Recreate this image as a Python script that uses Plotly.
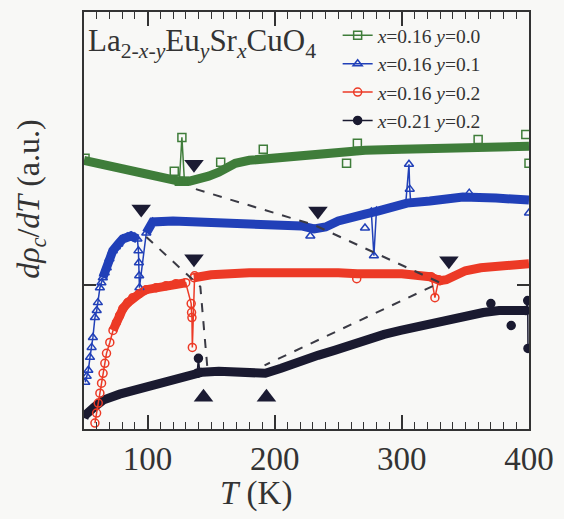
import plotly.graph_objects as go

# ---------------- data (T in K, dρc/dT in a.u.) ----------------
# x=0.16 y=0.0 (green squares)
g_band_T = [50, 60, 72.6, 85, 99, 112, 125, 133, 140, 148, 156, 163, 169, 180, 195, 210, 221, 235, 250, 271, 300, 322, 350, 374, 400]
g_band_v = [270, 267, 263, 259, 256, 252, 249, 249, 251, 254, 258, 263, 267, 270, 272, 274, 275, 277, 278, 280, 281, 282, 283, 283, 284]
g_pts_T = [125, 127, 129, None, 50.8, None, 121, None, 157.5, None, 191, None, 256.5, None, 265, None, 360, None, 397.5, None, 400]
g_pts_v = [249, 293, 249, None, 272, None, 259, None, 268, None, 281, None, 267, None, 287, None, 291, None, 296, None, 267]

# x=0.16 y=0.1 (blue triangles)
b_band1_T = [64.8, 67.9, 72.6, 77, 80.5, 87, 92]
b_band1_v = [152, 162, 179, 186, 191, 194, 191]
b_band2_T = [99, 104, 120, 143, 170, 195, 221, 231, 240, 250, 262, 271, 281, 295, 304, 322, 348, 374, 400]
b_band2_v = [197, 208, 209, 208, 208, 207, 204, 201, 203, 209, 214, 216, 219, 224, 227, 229, 233, 232, 230]
b_pts_T = [51, 52.1, 53.4, 54.7, 56, 57, 58.6, 60, 60.9, 62.5, 63.7, 64.8, 66.3, 67.9, 70, 72.6, 75, 77, 80.5, 84, 87, 90, 92,
           92.8, 93.2, 93.4, 93.6, 99, 104, None,
           303, 305.6, 306.2, 307, None, 276, 278, 280, None, 271, None, 228, None, 400, None, 353]
b_pts_v = [47, 53, 59, 72, 82, 92, 112, 119, 127, 142, 147, 152, 157, 162, 171, 179, 183, 186, 191, 193, 194, 193, 191,
           179, 167, 154, 142, 197, 208, None,
           226, 266, 241, 227, None, 218, 174, 219, None, 202, None, 194, None, 217, None, 237]

# x=0.16 y=0.2 (red circles)
r_band1_T = [72.8, 75.5, 78, 80.6, 84.5, 88.4, 93.6, 98.9, 106.7, 114.5, 122.3, 130]
r_band1_v = [99, 107, 114, 121, 127, 132, 136, 140, 142, 144, 146, 147]
r_band2_T = [136.5, 150, 180, 220, 250, 265, 300, 322, 330, 335, 341, 350, 362, 380, 400]
r_band2_v = [152, 155, 157, 158, 157, 156, 156, 153, 149, 150, 154, 159, 162, 164, 166]
r_pts_T = [58.6, 59.9, 61.2, 62.5, 63.8, 65, 66.4, 67.7, 70.3, 72.8, 75.5, 78, 80.6, 84.5, 88.4, 93.6, 98.9, 106.7, 114.5, 122.3, 130,
           134.3, 134.6, 134.9, 135.2, 136.5, 137, None, 323, 326, 329, None, 264.5, None, 330]
r_pts_v = [6, 16, 26, 36, 46, 56, 66, 76, 87, 99, 107, 114, 121, 127, 132, 136, 140, 142, 144, 146, 147,
           126, 117, 112, 82, 152, 154, None, 153, 132, 150, None, 151, None, 149]

# x=0.21 y=0.2 (black dots)
k_band_T = [50, 51, 58, 65, 78, 91, 104, 117, 130, 143, 156, 169, 181, 192.6, 205, 221, 234, 247, 260, 273, 286, 299, 312, 325, 338, 351, 364, 376.5, 388, 397.6]
k_band_v = [11, 14, 22, 29, 35, 39, 44, 49, 53, 57, 58, 58, 57, 56, 61, 69, 74, 79, 85, 91, 95, 99, 103, 107, 111, 114, 117, 119, 120, 119]
k_pts_T = [139, 140, 141, None, 370, None, 386, None, 397.6, 399, 399.2]
k_pts_v = [56, 71, 57, None, 126, None, 104, None, 119, 129, 81]

# guide lines and transition markers
dashA_T = [138, 231, 330, 192]
dashA_v = [241, 205, 147, 64]
dashB_T = [99, 136, 141.5, 147]
dashB_v = [193, 150, 143, 62]
down_T = [95, 136.5, 136.5, 234, 337]
down_v = [221, 266, 171, 219, 169]
up_T = [144, 193.5]
up_v = [32, 32]

legend_names = ["<i>x</i>=0.16 <i>y</i>=0.0", "<i>x</i>=0.16 <i>y</i>=0.1",
                "<i>x</i>=0.16 <i>y</i>=0.2", "<i>x</i>=0.21 <i>y</i>=0.2"]

GREEN, BLUE, RED, BLACK = "#3f7d3a", "#2140b8", "#ec3a26", "#1a1a30"
FONT = "Liberation Serif"
BW = 9

fig = go.Figure()

# thick bands (dense data)
for T, v, c in [(g_band_T, g_band_v, GREEN), (b_band1_T, b_band1_v, BLUE), (b_band2_T, b_band2_v, BLUE),
                (r_band1_T, r_band1_v, RED), (r_band2_T, r_band2_v, RED), (k_band_T, k_band_v, BLACK)]:
    fig.add_trace(go.Scatter(x=T, y=v, mode="lines", line=dict(color=c, width=BW),
                             showlegend=False, hoverinfo="skip"))

# individual points / spikes (also legend entries)
for T, v, c, sym, name in [(g_pts_T, g_pts_v, GREEN, "square-open", legend_names[0]),
                           (b_pts_T, b_pts_v, BLUE, "triangle-up-open", legend_names[1]),
                           (r_pts_T, r_pts_v, RED, "circle-open", legend_names[2]),
                           (k_pts_T, k_pts_v, BLACK, "circle", legend_names[3])]:
    fig.add_trace(go.Scatter(x=T, y=v, mode="lines+markers", name=name,
                             line=dict(color=c, width=1.5),
                             marker=dict(symbol=sym, size=8, color=c, line=dict(color=c, width=1.5)),
                             connectgaps=False))

# dashed guides
for T, v in [(dashA_T, dashA_v), (dashB_T, dashB_v)]:
    fig.add_trace(go.Scatter(x=T, y=v, mode="lines", line=dict(color="#3a3a44", width=2, dash="dash"),
                             showlegend=False, hoverinfo="skip"))

# transition markers
fig.add_trace(go.Scatter(x=down_T, y=down_v, mode="markers",
                         marker=dict(symbol="triangle-down", size=17, color="#1b1b33"), showlegend=False))
fig.add_trace(go.Scatter(x=up_T, y=up_v, mode="markers",
                         marker=dict(symbol="triangle-up", size=17, color="#1b1b33"), showlegend=False))

fig.update_layout(
    width=564, height=519,
    margin=dict(l=84, r=31, t=10, b=90),
    paper_bgcolor="#f8f8f6", plot_bgcolor="#f8f8f6",
    font=dict(family=FONT, color="#2a2a2a"),
    showlegend=True,
    legend=dict(x=0.57, y=0.99, xanchor="left", yanchor="top", bgcolor="rgba(0,0,0,0)",
                font=dict(size=19.5, family=FONT, color="#333"), tracegroupgap=0, itemwidth=30),
    xaxis=dict(range=[50, 400], tickvals=[100, 200, 300, 400], ticks="inside", ticklen=14, tickwidth=1.5,
               tickcolor="#333", minor=dict(dtick=10, ticks="inside", ticklen=7, tickwidth=1, tickcolor="#333"),
               showline=True, linecolor="#333", linewidth=1.5, mirror="ticks", showgrid=False, zeroline=False,
               tickfont=dict(size=33, family=FONT, color="#333")),
    yaxis=dict(range=[0, 419], tickvals=[145], ticks="inside", ticklen=12, tickwidth=1.5, tickcolor="#333",
               showticklabels=False, showline=True, linecolor="#333", linewidth=1.5, mirror="ticks",
               showgrid=False, zeroline=False),
    annotations=[
        dict(text="La<sub>2-<i>x</i>-<i>y</i></sub>Eu<sub><i>y</i></sub>Sr<sub><i>x</i></sub>CuO<sub>4</sub>",
             xref="paper", yref="paper", x=0.005, y=0.925, xanchor="left", yanchor="middle", showarrow=False,
             font=dict(size=31, family=FONT, color="#333")),
        dict(text="<i>T</i> (K)", xref="paper", yref="paper", x=0.3875, y=-0.155, xanchor="center",
             yanchor="middle", showarrow=False, font=dict(size=33, family=FONT, color="#333")),
        dict(text="<i>dρ<sub>c</sub></i>/<i>dT</i> (a.u.)", xref="paper", yref="paper", x=-0.12, y=0.551,
             xanchor="center", yanchor="middle", textangle=-90, showarrow=False,
             font=dict(size=32, family=FONT, color="#333")),
    ],
)

fig.write_html("out.html")
